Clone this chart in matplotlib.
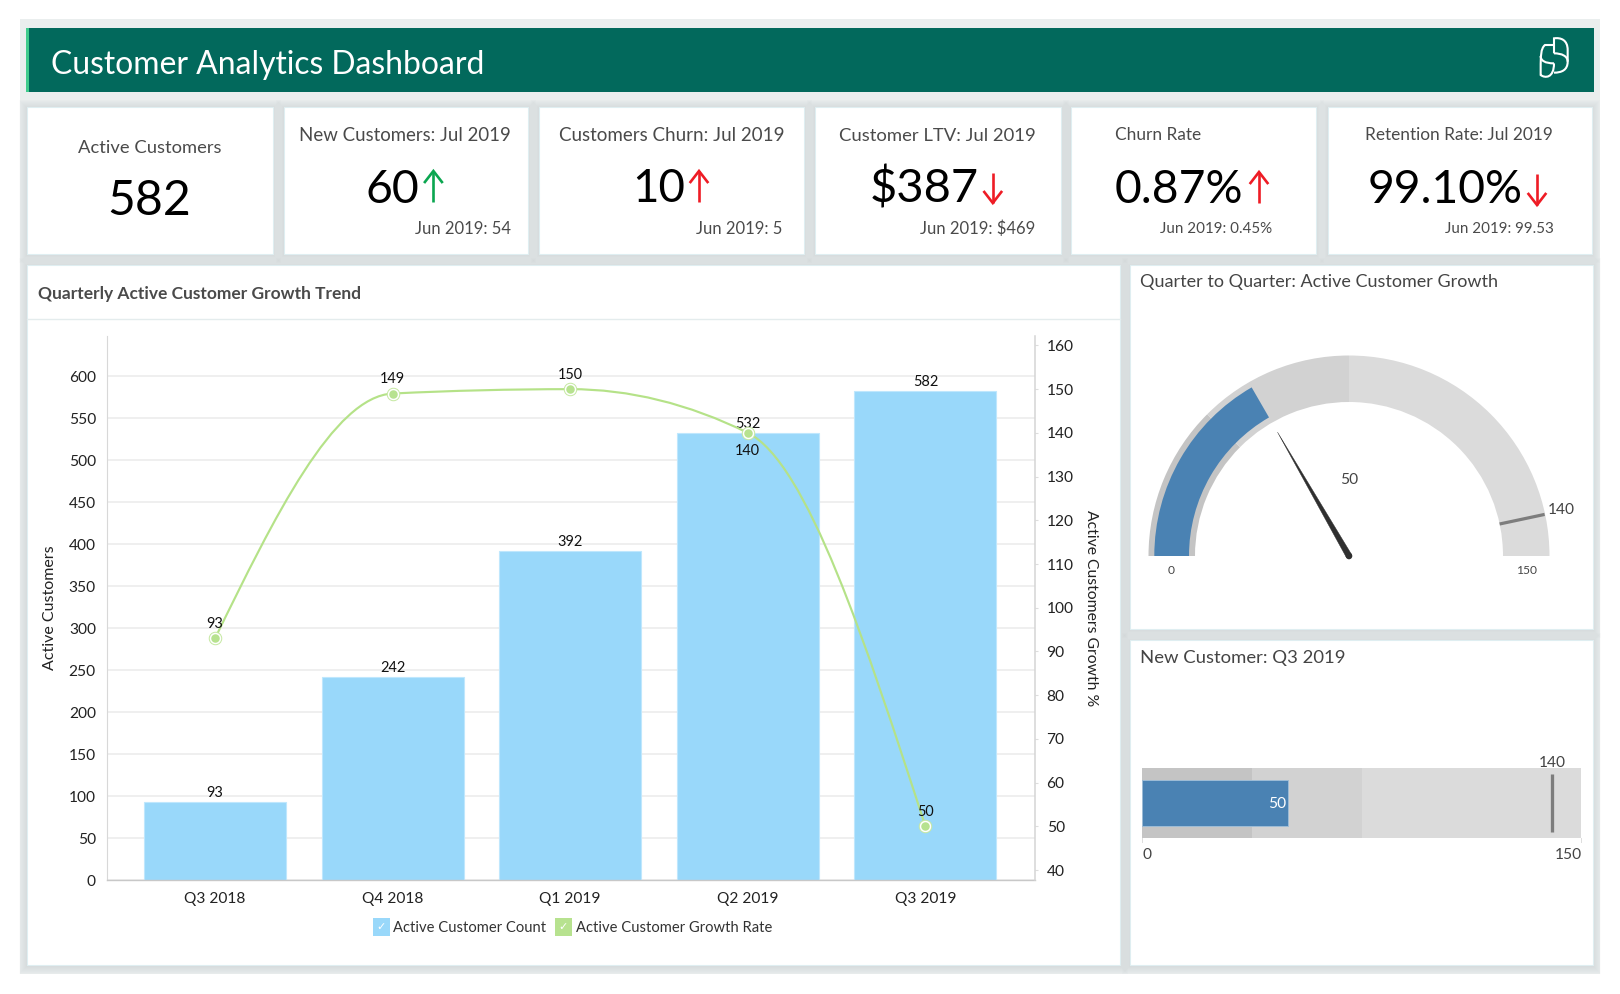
import matplotlib
matplotlib.use("Agg")
import matplotlib.pyplot as plt
import numpy as np
from matplotlib.patches import Rectangle, Wedge, PathPatch, Circle, Polygon
from matplotlib.path import Path

# ---------- data ----------
QUARTERS = ["Q3 2018", "Q4 2018", "Q1 2019", "Q2 2019", "Q3 2019"]
ACTIVE_COUNT = [93, 242, 392, 532, 582]
GROWTH_RATE = [93, 149, 150, 140, 50]
LEFT_TICKS = [0, 50, 100, 150, 200, 250, 300, 350, 400, 450, 500, 550, 600]
RIGHT_TICKS = [40, 50, 60, 70, 80, 90, 100, 110, 120, 130, 140, 150, 160]
KPI_VALUES = ["60", "10", "$387", "0.87%", "99.10%"]
KPI_TITLES = ["New Customers: Jul 2019", "Customers Churn: Jul 2019",
              "Customer LTV: Jul 2019", "Churn Rate", "Retention Rate: Jul 2019"]
KPI_PREV = ["Jun 2019: 54", "Jun 2019: 5", "Jun 2019: $469", "Jun 2019: 0.45%", "Jun 2019: 99.53"]
BAND_EDGES = [0, 37.5, 75, 150]
GAUGE_VALUE = 50
GAUGE_TARGET = 140
GAUGE_MAX = 150

W, H = 1620, 994
FS = 72 / 100  # points per pixel
SANS = "Lato"
PROX = "Lato"

fig = plt.figure(figsize=(W / 100, H / 100), dpi=100, facecolor="white")
ov = fig.add_axes([0, 0, 1, 1], zorder=0)
ov.set_xlim(0, W); ov.set_ylim(H, 0); ov.axis("off")
renderer = fig.canvas.get_renderer()


def box(x0, y0, x1, y1):
    return [x0 / W, 1 - y1 / H, (x1 - x0) / W, (y1 - y0) / H]


def fit(s, x0, x1, y, color="#444444", family=SANS, weight="normal"):
    t = ov.text(x0, y, s, color=color, family=family, weight=weight, fontsize=20, ha="left", va="baseline")
    w = t.get_window_extent(renderer).width
    fs = 20 * (x1 - x0) / w
    t.set_fontsize(fs)
    t.set_y(y + 0.36 * fs / FS)
    return t


def fit_rot(s, x, y0, y1, rotation, color="#222222"):
    t = ov.text(x, (y0 + y1) / 2, s, color=color, family=PROX, fontsize=20, ha="center", va="center",
                rotation=rotation)
    h = t.get_window_extent(renderer).height
    t.set_fontsize(20 * (y1 - y0) / h)
    return t


def txt(x, y, s, px, color="#333333", ha="center", family=PROX, **kw):
    return ov.text(x, y, s, fontsize=px * FS, color=color, ha=ha, va="center", family=family, **kw)


# ---------- frame ----------
ov.add_patch(Rectangle((20, 19), 1580, 955, fc="#eaeeee", ec="none"))
ov.add_patch(Rectangle((29, 28), 1565, 63.6, fc="#02695c", ec="none"))
ov.add_patch(Rectangle((25.7, 28), 3.3, 63.6, fc="#3fcb8c", ec="none"))

cards = [(27, 107, 272.7, 254), (283.6, 107, 528.4, 254), (539, 107, 803.7, 254),
         (815, 107, 1061, 254), (1071, 107, 1316, 254), (1327.6, 107, 1592, 254),
         (27, 265, 1120, 965), (1130.2, 265, 1592.7, 629), (1130.2, 640, 1592.7, 965)]
for (x0, y0, x1, y1) in cards:
    for k in range(1, 9):
        ov.add_patch(Rectangle((x0 - k, y0 - k + 1), x1 - x0 + 2 * k, y1 - y0 + 2 * k,
                               fc="#a3a9ac", ec="none", alpha=0.033))
for (x0, y0, x1, y1) in cards:
    ov.add_patch(Rectangle((x0, y0), x1 - x0, y1 - y0, fc="white", ec="#dfeef1", lw=0.8))
ov.plot([27, 1120], [319, 319], color="#e4eced", lw=1)

# header title and logo
fit("Customer Analytics Dashboard", 50.6, 484, 63, color="white", family=PROX)


def L(x, y):
    return (1480 + x / 3, 20 + y / 3)


logo_parts = [
    [(222, 100), (222, 55), (243, 52), (263, 60), (263, 90), (263, 125), (263, 150), (245, 158), (222, 158)],
    [(222, 75), (195, 75), (182, 85), (182, 110), (182, 145), (182, 165), (195, 175), (222, 175), (222, 130)],
    [(182, 108), (182, 122), (195, 130), (222, 130)],
    [(222, 100), (245, 100), (263, 108), (263, 125)],
]
for part in logo_parts:
    verts = [L(*p) for p in part]
    if len(part) == 4:
        codes = [Path.MOVETO, Path.CURVE4, Path.CURVE4, Path.CURVE4]
    else:
        codes = [Path.MOVETO, Path.LINETO, Path.CURVE4, Path.CURVE4, Path.LINETO,
                 Path.LINETO, Path.CURVE4, Path.CURVE4, Path.LINETO]
    ov.add_patch(PathPatch(Path(verts, codes), fc="none", ec="white", lw=1.5))

# ---------- KPI cards ----------
fit("Active Customers", 77.8, 221, 146.7, color="#4a4a4a")
fit("582", 107.5, 191, 198, color="#000000")

title_x = [(298.8, 511), (559.4, 785), (839.4, 1036), (1114.8, 1201), (1364.8, 1553)]
prev_x = [(414.8, 511), (696, 783), (920, 1036), (1160, 1272), (1445, 1553.5)]
value_x = [(365, 419), (632, 685), (869.5, 978.8), (1115, 1243.5), (1368, 1523.5)]
arrows = [(433.4, 171, 202, "#0ba650", "up"), (699, 171, 202, "#ee1c25", "up"),
          (992.8, 173, 203, "#ee1c25", "down"), (1259, 172, 203, "#ee1c25", "up"),
          (1537, 174, 205, "#ee1c25", "down")]
for i in range(5):
    fit(KPI_TITLES[i], *title_x[i], 134, color="#4a4a4a")
    fit(KPI_PREV[i], *prev_x[i], 228, color="#4a4a4a")
    fit(KPI_VALUES[i], *value_x[i], 186, color="#000000")
    x, y0, y1, col, d = arrows[i]
    ov.plot([x, x], [y0, y1], color=col, lw=1.9, solid_capstyle="butt")
    tip, sgn = (y0, 1) if d == "up" else (y1, -1)
    ov.plot([x - 8.5, x, x + 8.5], [tip + sgn * 11, tip, tip + sgn * 11], color=col, lw=1.9,
            solid_joinstyle="miter")

fit("Quarterly Active Customer Growth Trend", 38, 360, 292.5, color="#4a4a4a", weight="bold", family=PROX)
fit("Quarter to Quarter: Active Customer Growth", 1140, 1498.5, 281, color="#444444", family=PROX)
fit("New Customer: Q3 2019", 1140, 1345, 656.5, color="#444444", family=PROX)

# ---------- main combo chart ----------
ax = fig.add_axes(box(106.7, 336, 1035, 880.3), zorder=2)
ax.patch.set_alpha(0)
xs = np.arange(len(QUARTERS))
bars = ax.bar(xs, ACTIVE_COUNT, width=0.8, color="#99d8fa", edgecolor="#bfe7fd", linewidth=0.8, zorder=2)
ax.set_xlim(-0.61, 4.617)
ax.set_ylim(0, 648)
ax.set_yticks(LEFT_TICKS)
ax.set_xticks(xs, QUARTERS)
ax.grid(axis="y", color="#ececec", lw=1.2, zorder=0)
ax.set_axisbelow(True)
ax.tick_params(axis="y", length=0, pad=7.8, labelsize=15.5 * FS, labelcolor="#222222")
ax.tick_params(axis="x", length=0, pad=8.1, labelsize=15.5 * FS, labelcolor="#222222")
for s in ("top", "right"):
    ax.spines[s].set_visible(False)
ax.spines["left"].set_color("#d8d8d8")
ax.spines["bottom"].set_color("#c8c8c8")
ax.spines["bottom"].set_linewidth(1)
for lab in ax.get_xticklabels() + ax.get_yticklabels():
    lab.set_family(PROX)
for x, v in zip(xs, ACTIVE_COUNT):
    ax.annotate(str(v), (x, v), xytext=(0, 9 * FS), textcoords="offset points", ha="center", va="center",
                fontsize=14.5 * FS, color="#111111", family=PROX, zorder=6)

ax2 = ax.twinx()
ax2.set_zorder(3)
ax2.patch.set_alpha(0)
ax2.set_ylim(37.66, 162.16)
ax2.set_yticks(RIGHT_TICKS)
ax2.tick_params(axis="y", length=3 * FS, width=0.8, color="#dddddd", pad=6.2, labelsize=15.5 * FS, labelcolor="#222222")
for lab in ax2.get_yticklabels():
    lab.set_family(PROX)
for s in ("top", "left", "bottom"):
    ax2.spines[s].set_visible(False)
ax2.spines["right"].set_color("#d4d4d4")
ax2.spines["right"].set_linewidth(1.1)


def monotone_path(x, y):
    """Cubic Bezier through the data points with monotone tangents."""
    x = np.asarray(x, float); y = np.asarray(y, float)
    h = np.diff(x); s = np.diff(y) / h
    t = np.zeros_like(y)
    for i in range(1, len(y) - 1):
        p = (s[i - 1] * h[i] + s[i] * h[i - 1]) / (h[i - 1] + h[i])
        t[i] = (np.sign(s[i - 1]) + np.sign(s[i])) * min(abs(s[i - 1]), abs(s[i]), 0.5 * abs(p))
    t[0] = (3 * s[0] - t[1]) / 2
    t[-1] = (3 * s[-1] - t[-2]) / 2
    verts = [(x[0], y[0])]; codes = [Path.MOVETO]
    for i in range(len(h)):
        d = h[i] / 3
        verts += [(x[i] + d, y[i] + d * t[i]), (x[i + 1] - d, y[i + 1] - d * t[i + 1]), (x[i + 1], y[i + 1])]
        codes += [Path.CURVE4] * 3
    return Path(verts, codes)


ax2.add_patch(PathPatch(monotone_path(xs, GROWTH_RATE), fill=False, ec="#b5e288", lw=1.55, zorder=3))
ax2.plot(xs, GROWTH_RATE, ls="none", marker="o", ms=12.5 * FS, mfc="white", mec="#c4e8a0", mew=0.7, zorder=4)
ax2.plot(xs, GROWTH_RATE, ls="none", marker="o", ms=8.5 * FS, mfc="#b7e28f", mec="none", zorder=5)
offsets = [14.5, 14.5, 14.5, -18.5, 14.5]
for x, v, off in zip(xs, GROWTH_RATE, offsets):
    ax2.annotate(str(v), (x, v), xytext=(0, off * FS), textcoords="offset points", ha="center", va="center",
                 fontsize=14.5 * FS, color="#111111", family=PROX, zorder=6)

fit_rot("Active Customers", 50.5, 544.7, 669.8, 90)
fit_rot("Active Customers Growth %", 1091, 509.6, 707, 270)

# legend
for (x0, x1, col, lx0, lx1, name) in [(372.6, 390, "#99d8fa", 392.8, 546, "Active Customer Count"),
                                      (555, 572, "#b7e28f", 576.5, 772, "Active Customer Growth Rate")]:
    ov.add_patch(Rectangle((x0, 918), x1 - x0, 17.7, fc=col, ec="none"))
    ov.text((x0 + x1) / 2, 927, "\u2713", color="white", fontsize=8, ha="center", va="center", family="DejaVu Sans")
    fit(name, lx0, lx1, 926.7, color="#333333", family=PROX)

# ---------- gauge ----------
gx, gy = 1349, 556
g = fig.add_axes(box(gx - 210, gy - 210, gx + 210, gy + 10), zorder=2)
g.set_xlim(-210, 210); g.set_ylim(-10, 210); g.axis("off")


def ang(v):
    return 180 - v / GAUGE_MAX * 180


band_cols = ["#c4c4c4", "#d2d2d2", "#dbdbdb"]
for lo, hi, c in zip(BAND_EDGES[:-1], BAND_EDGES[1:], band_cols):
    g.add_patch(Wedge((0, 0), 200.5, ang(hi), ang(lo), width=46.5, fc=c, ec="none"))
g.add_patch(Wedge((0, 0), 194.7, ang(GAUGE_VALUE), ang(0), width=34.7, fc="#4a82b3", ec="none"))
th = np.radians(ang(GAUGE_TARGET))
g.plot([154 * np.cos(th), 200 * np.cos(th)], [154 * np.sin(th), 200 * np.sin(th)], color="#7d7d7d", lw=3.2 * FS,
       solid_capstyle="butt")
th = np.radians(ang(GAUGE_VALUE))
u = np.array([np.cos(th), np.sin(th)]); n = np.array([-u[1], u[0]])
g.add_patch(Polygon([3 * n, 143 * u, -3 * n], closed=True, fc="#2f2f2f", ec="#2f2f2f", lw=0.3))
g.add_patch(Circle((0, 0), 3.3, fc="#2f2f2f", ec="none"))
txt(1349, 479.5, str(GAUGE_VALUE), 15.5, color="#444444")
txt(1561.7, 510.5, str(GAUGE_TARGET), 15.5, color="#444444")
txt(1171, 570.5, "0", 12, color="#444444")
txt(1527, 570.5, str(GAUGE_MAX), 12, color="#444444")

# ---------- bullet ----------
b = fig.add_axes(box(1142, 768, 1581, 838), zorder=2)
b.set_xlim(0, GAUGE_MAX); b.set_ylim(-0.5, 0.5); b.axis("off")
for lo, hi, c in zip(BAND_EDGES[:-1], BAND_EDGES[1:], band_cols):
    b.barh(0, hi - lo, left=lo, height=1, color=c, edgecolor="none")
b.barh(0, GAUGE_VALUE, height=0.666, color="#4a82b3", edgecolor="#9dbcd6", lw=0.7)
b.vlines(GAUGE_TARGET, -0.414, 0.414, color="#7d7d7d", lw=3.3 * FS)
b.annotate(str(GAUGE_VALUE), (GAUGE_VALUE, 0), xytext=(-2.6 * FS, -1.5 * FS), textcoords="offset points", ha="right",
           va="center", color="white", fontsize=15.5 * FS, family=PROX)
txt(1552, 763, str(GAUGE_TARGET), 15.5, color="#444444")
txt(1142.5, 855, "0", 15.5, color="#444444", ha="left")
txt(1582, 855, str(GAUGE_MAX), 15.5, color="#444444", ha="right")
ov.plot([1142.3, 1142.3], [838, 842], color="#dddddd", lw=0.7)
ov.plot([1581, 1581], [838, 842], color="#dddddd", lw=0.7)

fig.savefig("out.png", dpi=100)
